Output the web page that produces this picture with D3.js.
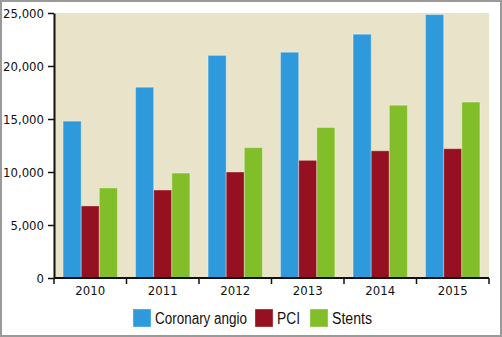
<!DOCTYPE html>
<html>
<head>
<meta charset="utf-8">
<script src="https://cdn.jsdelivr.net/npm/d3@7"></script>
<style>
  body { margin: 0; background: #fff; }
  svg { display: block; }
</style>
</head>
<body>
<svg id="chart" width="502" height="337"></svg>
<script>
var years = ["2010", "2011", "2012", "2013", "2014", "2015"];
var seriesNames = ["Coronary angio", "PCI", "Stents"];
var coronaryAngio = [14800, 18000, 21000, 21300, 23000, 24850];
var pci = [6800, 8300, 10000, 11100, 12000, 12200];
var stents = [8500, 9900, 12300, 14200, 16300, 16600];
var yTicks = [0, 5000, 10000, 15000, 20000, 25000];
var colors = ["#2E9ADB", "#951020", "#82BE2A"];

var width = 502, height = 337,
    margins = {top: 13, right: 13, bottom: 59, left: 54};

var svg = d3.select("#chart");

// outer frame
svg.append("rect")
    .attr("x", 1).attr("y", 1)
    .attr("width", width - 2).attr("height", height - 2)
    .attr("fill", "#fff")
    .attr("stroke", "#9a9a9a")
    .attr("stroke-width", 2);

var innerW = width - margins.left - margins.right,
    innerH = height - margins.top - margins.bottom;

var g = svg.append("g")
    .attr("transform", "translate(" + margins.left + "," + margins.top + ")");

var x0 = d3.scaleBand().domain(years).range([0, innerW]);
var x1 = d3.scaleBand().domain(seriesNames)
    .range([x0.bandwidth() * 0.125, x0.bandwidth() * 0.875]);
var y = d3.scaleLinear().domain([0, 25000]).range([innerH, 0]);

g.append("rect")
    .attr("width", innerW).attr("height", innerH)
    .attr("fill", "#E9E4C9");

var rows = years.map((yr, i) => ({
    year: yr,
    values: [coronaryAngio[i], pci[i], stents[i]]
}));

var groups = g.selectAll(".yr")
    .data(rows)
    .enter().append("g")
    .attr("class", "yr")
    .attr("transform", d => "translate(" + x0(d.year) + ",0)");

groups.selectAll("rect")
    .data(d => d.values.map((v, k) => ({name: seriesNames[k], value: v, k: k})))
    .enter().append("rect")
    .attr("x", d => x1(d.name))
    .attr("y", d => y(d.value))
    .attr("width", x1.bandwidth())
    .attr("height", d => innerH - y(d.value))
    .attr("fill", d => colors[d.k])
    .attr("stroke", "#ffffff")
    .attr("stroke-opacity", 0.35)
    .attr("stroke-width", 1);

var tickFont = "'Liberation Sans Narrow', 'DejaVu Sans Condensed', sans-serif";

// y axis
var yAxis = g.append("g")
    .call(d3.axisLeft(y).tickValues(yTicks).tickSize(6).tickSizeOuter(0)
        .tickFormat(d3.format(",")));
yAxis.select(".domain").attr("stroke", "#111").attr("stroke-width", 2);
yAxis.selectAll(".tick line").attr("stroke", "#111").attr("stroke-width", 1.5);
yAxis.selectAll(".tick text")
    .attr("x", -10)
    .style("font-family", tickFont)
    .style("font-size", "13px")
    .attr("fill", "#111");

// x axis: ticks on band boundaries
var xAxis = g.append("g")
    .attr("transform", "translate(0," + innerH + ")");
xAxis.append("line")
    .attr("x1", 0).attr("x2", innerW)
    .attr("stroke", "#111").attr("stroke-width", 2);
var bounds = years.map(yr => x0(yr)).concat([innerW]);
xAxis.selectAll(".bnd")
    .data(bounds)
    .enter().append("line")
    .attr("class", "bnd")
    .attr("x1", d => d).attr("x2", d => d)
    .attr("y1", 0).attr("y2", 6)
    .attr("stroke", "#111").attr("stroke-width", 1.5);
xAxis.selectAll(".lbl")
    .data(years)
    .enter().append("text")
    .attr("class", "lbl")
    .attr("x", d => x0(d) + x0.bandwidth() / 2)
    .attr("y", 17)
    .attr("text-anchor", "middle")
    .style("font-family", tickFont)
    .style("font-size", "13px")
    .attr("fill", "#111")
    .text(d => d);

// legend
var legendX = [133, 255, 310];
var legendLen = [92, 23, 40];
var legend = svg.append("g")
    .attr("transform", "translate(0,309)");
var items = legend.selectAll(".lg")
    .data(seriesNames)
    .enter().append("g")
    .attr("class", "lg")
    .attr("transform", (d, i) => "translate(" + legendX[i] + ",0)");
items.append("rect")
    .attr("width", 18).attr("height", 18)
    .attr("fill", (d, i) => colors[i])
    .attr("stroke", "#ffffff").attr("stroke-opacity", 0.35);
items.append("text")
    .attr("x", 22).attr("y", 15)
    .attr("textLength", (d, i) => legendLen[i])
    .attr("lengthAdjust", "spacingAndGlyphs")
    .style("font-family", "'Liberation Sans', Arial, sans-serif")
    .style("font-size", "16px")
    .attr("fill", "#111")
    .text(d => d);
</script>
</body>
</html>
